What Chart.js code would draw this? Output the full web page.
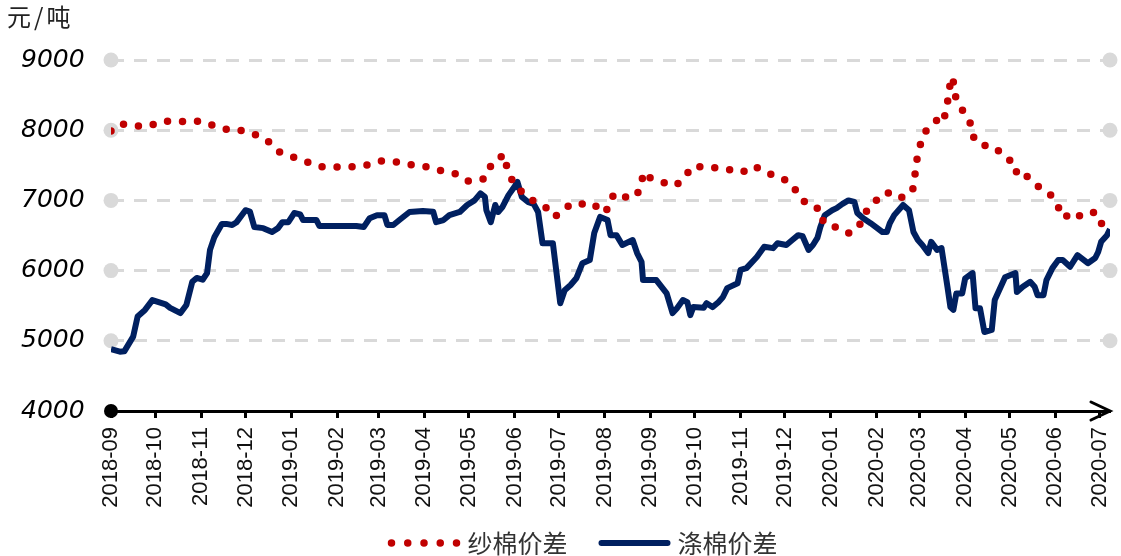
<!DOCTYPE html>
<html>
<head>
<meta charset="utf-8">
<script src="https://cdn.jsdelivr.net/npm/chart.js@4.4.0/dist/chart.umd.min.js"></script>
<style>
  body { margin: 0; background: #fff; }
  #wrap { position: relative; width: 1121px; height: 556px; }
  #unit { position: absolute; left: 7px; top: -2px; font: 24px "Noto Sans CJK SC"; letter-spacing: 3px; color: #222; }
</style>
</head>
<body>
<div id="wrap">
  <canvas id="chart" width="1121" height="556"></canvas>
  <div id="unit">元/吨</div>
</div>
<script>
// x 轴按天计：距 2018-09-01 的天数
const startDate = Date.UTC(2018, 8, 1);
const monthLabels = ["2018-09", "2018-10", "2018-11", "2018-12", "2019-01", "2019-02", "2019-03", "2019-04",
  "2019-05", "2019-06", "2019-07", "2019-08", "2019-09", "2019-10", "2019-11", "2019-12", "2020-01",
  "2020-02", "2020-03", "2020-04", "2020-05", "2020-06", "2020-07"];
const seriesNames = ["纱棉价差", "涤棉价差"];
const yMin = 4000;
const yMax = 9000;
const lastDay = 676;

// 纱棉价差
const yarnDays = [0, 6, 17, 26, 35, 45, 55, 62, 72, 81, 89, 98, 107, 114, 123, 133, 142, 153, 163, 174,
  183, 194, 204, 214, 224, 234, 242, 252, 256, 262, 265, 268, 271, 278, 286, 295, 300, 306, 311, 319,
  326, 333, 338, 340, 345, 355, 359, 360, 365, 373, 382, 388, 393, 404, 411, 422, 427, 435, 444, 452,
  460, 465, 471, 480, 482, 485, 491, 499, 506, 509, 516, 520, 529, 536, 543, 544, 545, 547, 549, 553,
  558, 562, 564, 566, 567, 569, 570, 571, 574, 578, 583, 584, 593, 599, 604, 612, 613, 619, 625, 631,
  636, 641, 645, 650, 657, 666, 670, 675];
const yarnValues = [7990, 8090, 8060, 8060, 8130, 8120, 8130, 8125, 8045, 8000, 7995, 7935, 7830, 7690, 7620, 7545, 7480, 7475, 7480, 7505,
  7560, 7545, 7505, 7475, 7420, 7375, 7275, 7305, 7475, 7545, 7660, 7475, 7305, 7120, 6990, 6890, 6765, 6850, 6950, 6950,
  6960, 6820, 6920, 7090, 7050, 7050, 7210, 7400, 7320, 7260, 7210, 7320, 7480, 7480, 7455, 7430, 7400, 7490, 7390, 7335,
  7250, 7090, 6935, 6875, 6690, 6635, 6620, 6535, 6610, 6805, 6935, 7075, 7120, 7035, 7175, 7360, 7550, 7730, 7920, 8030,
  8120, 8245, 8190, 8385, 8570, 8760, 8685, 8500, 8370, 8215, 8045, 7860, 7765, 7745, 7620, 7530, 7350, 7360, 7235, 7150,
  7075, 6905, 6750, 6835, 6765, 6835, 6675, 6600];

// 涤棉价差
const polyDays = [0, 6, 9, 15, 18, 23, 28, 37, 40, 47, 51, 55, 58, 62, 65, 67, 70, 75, 78, 82,
  85, 91, 94, 97, 103, 109, 113, 116, 120, 124, 128, 130, 139, 141, 166, 171, 175, 180, 185, 187,
  191, 196, 202, 211, 218, 220, 225, 229, 236, 241, 246, 250, 253, 254, 257, 260, 262, 265, 269, 273,
  275, 278, 282, 286, 289, 292, 299, 304, 307, 311, 315, 319, 324, 327, 331, 336, 338, 342, 346, 353,
  356, 359, 360, 369, 376, 380, 383, 387, 390, 392, 394, 401, 403, 407, 411, 414, 417, 424, 426, 430,
  437, 442, 448, 451, 457, 461, 465, 468, 472, 475, 478, 480, 483, 488, 491, 495, 499, 503, 505, 509,
  514, 522, 525, 527, 530, 536, 540, 543, 546, 549, 553, 555, 559, 562, 566, 568, 570, 572, 576, 578,
  583, 585, 588, 591, 596, 598, 601, 605, 612, 613, 617, 622, 625, 627, 631, 633, 637, 641, 644, 649,
  654, 661, 666, 668, 670, 674, 676];
const polyValues = [4880, 4845, 4850, 5060, 5345, 5440, 5580, 5520, 5470, 5395, 5510, 5840, 5895, 5870, 5965, 6295, 6480, 6665, 6665, 6650,
  6690, 6860, 6840, 6620, 6605, 6550, 6605, 6690, 6690, 6820, 6800, 6720, 6720, 6635, 6635, 6620, 6745, 6790, 6790, 6650,
  6650, 6735, 6835, 6850, 6840, 6690, 6720, 6790, 6835, 6935, 7000, 7100, 7050, 6860, 6690, 6935, 6835, 6910, 7075, 7195,
  7265, 7050, 6980, 6950, 6835, 6390, 6390, 5535, 5720, 5795, 5895, 6105, 6150, 6535, 6765, 6720, 6505, 6505, 6365, 6435,
  6250, 6125, 5865, 5865, 5675, 5395, 5465, 5580, 5550, 5365, 5480, 5470, 5535, 5480, 5550, 5620, 5750, 5820, 6010, 6035,
  6195, 6340, 6320, 6390, 6365, 6435, 6505, 6490, 6295, 6365, 6465, 6620, 6790, 6860, 6890, 6950, 7000, 6980, 6820, 6745,
  6675, 6550, 6550, 6675, 6790, 6935, 6860, 6550, 6435, 6365, 6250, 6410, 6295, 6320, 5770, 5480, 5440, 5675, 5675, 5890,
  5965, 5465, 5465, 5125, 5155, 5580, 5720, 5905, 5965, 5695, 5770, 5840, 5770, 5650, 5650, 5865, 6035, 6150, 6150, 6055,
  6220, 6105, 6180, 6265, 6410, 6505, 6590];

const monthDays = monthLabels.map((m) => {
  const [yy, mm] = m.split("-").map(Number);
  return (Date.UTC(yy, mm - 1, 1) - startDate) / 86400000;
});

const toPoints = (days, values) => days.map((d, i) => ({ x: d, y: values[i] }));

// 网格线两端的灰色圆点、x轴起点黑点和箭头
const axisDecor = {
  id: "axisDecor",
  beforeDatasetsDraw(chart) {
    const { ctx, chartArea, scales: { y } } = chart;
    ctx.save();
    ctx.fillStyle = "#d9d9d9";
    y.ticks.forEach((t) => {
      if (t.value === yMin) return;
      const py = y.getPixelForValue(t.value);
      [chartArea.left, chartArea.right].forEach((px) => {
        ctx.beginPath();
        ctx.arc(px, py, 7.5, 0, Math.PI * 2);
        ctx.fill();
      });
    });
    ctx.restore();
  },
  afterDraw(chart) {
    const { ctx, chartArea } = chart;
    const by = chartArea.bottom;
    ctx.save();
    ctx.fillStyle = "#000";
    ctx.beginPath();
    ctx.arc(chartArea.left, by, 7, 0, Math.PI * 2);
    ctx.fill();
    ctx.strokeStyle = "#000";
    ctx.lineWidth = 3;
    ctx.lineCap = "round";
    ctx.beginPath();
    ctx.moveTo(chartArea.right - 19, by - 9);
    ctx.lineTo(chartArea.right, by);
    ctx.lineTo(chartArea.right - 19, by + 9);
    ctx.stroke();
    ctx.restore();
  },
};

// 底部图例：用数据集自己的颜色和线宽画样例
const bottomLegend = {
  id: "bottomLegend",
  afterDraw(chart) {
    const { ctx } = chart;
    const sampleW = 72, textGap = 7, itemGap = 31, cy = 543, center = 583;
    ctx.save();
    ctx.font = '25px "Noto Sans CJK SC"';
    ctx.textBaseline = "middle";
    const items = chart.data.datasets.map((ds) => ({ ds, w: sampleW + textGap + ctx.measureText(ds.label).width }));
    const total = items.reduce((s, it) => s + it.w, 0) + itemGap * (items.length - 1);
    let x = center - total / 2;
    items.forEach(({ ds, w }) => {
      ctx.strokeStyle = ds.borderColor;
      ctx.lineWidth = ds.borderWidth;
      ctx.lineCap = "round";
      if (ds.borderDash) {
        ctx.setLineDash([0, 16.25]);
        ctx.beginPath();
        ctx.moveTo(x + 3, cy);
        ctx.lineTo(x + 3 + 65.5, cy);
      } else {
        ctx.beginPath();
        ctx.moveTo(x + 3, cy);
        ctx.lineTo(x + sampleW - 3, cy);
      }
      ctx.stroke();
      ctx.setLineDash([]);
      ctx.fillStyle = "#333";
      ctx.fillText(ds.label, x + sampleW + textGap, cy);
      x += w + itemGap;
    });
    ctx.restore();
  },
};

const chart = new Chart(document.querySelector("#chart"), {
  type: "line",
  data: {
    datasets: [
      {
        label: seriesNames[0],
        data: toPoints(yarnDays, yarnValues),
        borderColor: "#C00000",
        backgroundColor: "#C00000",
        borderWidth: 7.5,
        borderDash: [0, 15],
        borderCapStyle: "round",
        pointRadius: 0,
        tension: 0,
      },
      {
        label: seriesNames[1],
        data: toPoints(polyDays, polyValues),
        borderColor: "#002060",
        backgroundColor: "#002060",
        borderWidth: 6,
        borderJoinStyle: "round",
        pointRadius: 0,
        tension: 0,
      },
    ],
  },
  options: {
    responsive: false,
    devicePixelRatio: 1,
    animation: false,
    layout: { padding: { left: 84, right: 11, top: 60, bottom: 40 } },
    scales: {
      x: {
        type: "linear",
        min: 0,
        max: lastDay,
        afterBuildTicks: (scale) => {
          scale.ticks = monthDays.map((v) => ({ value: v }));
        },
        afterFit: (scale) => {
          scale.height = 105;
          scale.paddingLeft = 0;
          scale.paddingRight = 0;
        },
        grid: {
          display: true,
          drawOnChartArea: false,
          drawTicks: true,
          tickLength: 7,
          tickColor: "#000",
          tickWidth: 3,
        },
        border: { display: true, color: "#000", width: 3 },
        ticks: {
          autoSkip: false,
          minRotation: 90,
          maxRotation: 90,
          padding: 9,
          color: "#111",
          font: { family: "Liberation Sans", size: 22 },
          callback: (value, index) => monthLabels[index],
        },
      },
      y: {
        min: yMin,
        max: yMax,
        afterFit: (scale) => {
          scale.width = 27;
        },
        grid: {
          color: (ctx) => (ctx.tick && ctx.tick.value === yMin ? "rgba(0,0,0,0)" : "#d9d9d9"),
          lineWidth: 3,
          drawTicks: false,
        },
        border: { display: false, dash: [13, 10] },
        ticks: {
          stepSize: 1000,
          mirror: true,
          padding: -90,
          color: "#000",
          font: { family: "DejaVu Sans", style: "italic", size: 25 },
          callback: (value) => String(value),
        },
      },
    },
    plugins: {
      legend: { display: false },
      tooltip: { enabled: false },
    },
  },
  plugins: [axisDecor, bottomLegend],
});
</script>
</body>
</html>
